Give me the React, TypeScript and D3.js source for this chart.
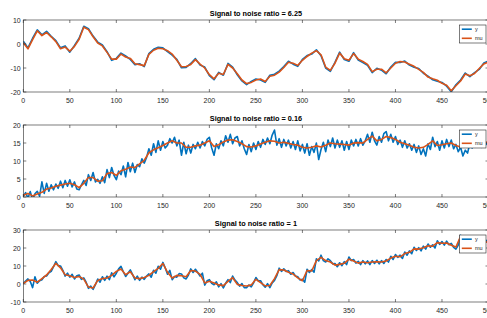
import React from 'react';
import * as d3 from 'd3';

const W = 487;
const H = 318;

// x ticks shared by all three panels
const xTicks = [0, 50, 100, 150, 200, 250, 300, 350, 400, 450, 500];

const titles = [
  'Signal to noise ratio = 6.25',
  'Signal to noise ratio = 0.16',
  'Signal to noise ratio = 1',
];
const yDomains: [number, number][] = [[-20, 10], [0, 20], [-10, 30]];
const yTicks = [
  [-20, -10, 0, 10],
  [0, 5, 10, 15, 20],
  [-10, 0, 10, 20, 30],
];

// panel 1 (every 5 samples)
const mu1 = [
  0.5, -2, 1.8, 5.5, 3.5, 4.8, 3, 1, -2, -1.3,
  -3, -1, 2, 7, 6, 3, 0.4, -0.8, -3.5, -6.3,
  -6.3, -4.2, -5.4, -6, -8.2, -8.6, -9, -4.3, -2.6, -1.8,
  -2, -2.8, -4.2, -6.8, -9.5, -9.4, -8.5, -6.5, -8.4, -10,
  -12.8, -14.5, -12.2, -12.7, -8.5, -10, -12.4, -15, -16.5, -16,
  -15, -14.6, -15.6, -13.4, -13, -11.7, -9.8, -7.6, -8, -8.9,
  -6.8, -5.2, -3.8, -2.8, -4.5, -9.6, -11, -8, -3.8, -6.1,
  -6.8, -4, -6.3, -7.3, -8.5, -11.5, -10.5, -10.5, -12, -10,
  -8, -7.3, -7.5, -8.4, -9.3, -10.6, -11.8, -13.8, -14.5, -15.1,
  -16.4, -17.2, -19.5, -17.4, -15.4, -12.5, -13.2, -12.3, -10.2, -8.3,
  -7.5,
];
const y1 = [
  1.2, -1.6, 2.4, 5.9, 3.8, 5.3, 3.2, 1.4, -1.6, -0.8,
  -3.4, -0.6, 2.4, 7.4, 6.4, 3.3, 0.8, -0.4, -3.2, -6.8,
  -6.0, -3.8, -5.0, -6.4, -8.6, -8.2, -9.4, -4.0, -2.2, -1.4,
  -1.6, -3.2, -4.6, -6.4, -9.9, -9.8, -8.1, -6.1, -8.8, -9.6,
  -13.2, -14.9, -11.8, -13.0, -8.1, -9.6, -12.8, -15.4, -16.9, -15.6,
  -14.6, -15.0, -16.0, -13.0, -12.6, -11.3, -9.4, -7.2, -8.4, -9.3,
  -6.4, -4.8, -4.2, -2.4, -4.9, -10.0, -11.4, -7.6, -3.4, -6.5,
  -7.2, -3.6, -6.7, -7.7, -8.9, -11.9, -10.1, -10.9, -12.4, -9.6,
  -7.6, -7.7, -7.1, -8.8, -9.7, -10.2, -12.2, -13.4, -14.9, -15.5,
  -16.0, -17.6, -19.9, -17.0, -15.0, -12.1, -13.6, -11.9, -10.6, -7.9,
  -7.1,
];

// panel 2
const mu2 = [
  0.5, 1, 0.3, 0.8, 1.3, 2.2, 2.5, 3, 3.3, 3.6,
  3.8, 3.4, 2.6, 3.8, 5.4, 5.4, 4.4, 4.5, 6.5, 6.8,
  6, 7.3, 7.7, 8.3, 8.2, 9.2, 10.2, 12.3, 13.1, 13.7,
  14.3, 15, 15.6, 15, 15, 13.8, 13.8, 14.2, 14.4, 15,
  15.6, 14, 14.5, 15.3, 15.8, 15.9, 15.4, 14.8, 14, 13.9,
  14.2, 14.7, 15.2, 15.6, 15.5, 15, 15.2, 14.9, 14.6, 14.4,
  13.8, 13.6, 13.8, 14.2, 13.9, 14.4, 15, 14.8, 14.7, 14.6,
  14.4, 15, 15.1, 15, 16, 16.9, 15.6, 16, 16.8, 16.5,
  16, 15.2, 14.8, 14.4, 13.8, 13.6, 13.8, 14.6, 15.6, 14.3,
  14.5, 14.8, 15, 14.3, 13.9, 13.8, 14.8, 14.9, 14.4, 15,
  15.4,
];
const y2 = [
  0.2, 1.2, -0.3, 1.5, -0.8, 0.9, 1.6, 0.2, 4.2, 1.0, 3.8, 1.6,
  3.4, 2.0, 3.6, 2.4, 4.4, 2.6, 4.6, 3.0, 4.8, 2.8, 4.2, 2.2,
  2.0, 3.4, 4.6, 3.2, 6.2, 4.6, 6.8, 4.2, 4.9, 3.8, 5.6, 4.0,
  7.6, 5.4, 8.2, 6.0, 4.8, 7.2, 6.2, 8.6, 5.6, 9.6, 7.0, 9.4,
  6.8, 9.0, 8.4, 10.6, 9.4, 11.0, 13.4, 11.6, 14.8, 12.4, 15.6, 13.0,
  15.4, 13.6, 14.4, 16.2, 15.0, 16.6, 14.2, 15.8, 11.6, 15.2, 12.0, 14.4,
  12.2, 14.6, 13.4, 15.2, 13.6, 15.4, 14.2, 16.0, 16.6, 13.6, 11.6, 14.8,
  13.4, 15.6, 14.2, 17.0, 15.2, 17.4, 14.8, 16.4, 16.8, 14.2, 15.6, 13.4,
  11.8, 14.6, 12.6, 15.0, 13.2, 15.4, 13.8, 16.0, 14.6, 16.4, 14.8, 17.2,
  18.6, 14.4, 16.2, 13.8, 16.0, 14.2, 15.8, 13.6, 15.4, 13.2, 15.6, 12.8,
  14.6, 12.2, 14.8, 11.6, 14.0, 12.4, 15.0, 10.4, 13.2, 15.2, 12.6, 15.8,
  14.0, 16.4, 13.6, 15.8, 13.8, 15.6, 13.0, 15.4, 13.2, 15.8, 14.2, 16.0,
  14.2, 16.2, 14.4, 15.6, 17.4, 15.2, 18.0, 15.6, 14.4, 16.8, 15.2, 17.6,
  18.2, 15.6, 17.4, 15.2, 16.8, 14.6, 15.8, 13.8, 15.6, 13.6, 14.8, 13.0,
  14.6, 12.4, 14.2, 11.8, 13.4, 11.4, 14.8, 13.2, 16.6, 14.0, 15.4, 13.0,
  15.6, 13.6, 16.0, 14.0, 15.8, 13.4, 14.6, 12.6, 13.8, 11.4, 13.0, 12.2,
  15.0, 13.6, 15.6, 14.0, 15.2, 13.8, 15.8, 14.6, 15.6,
];

// panel 3
const mu3 = [
  0.2, 2, 2.2, 1, 3, 5, 8, 11.5, 9, 5.1,
  4.6, 3.6, 4.2, 2.7, -1.7, -2.2, 2, 3, 3.3, 4.8,
  7, 8.3, 5.2, 6.8, 3.3, 3, 3.6, 4.8, 6.9, 8.7,
  11.4, 6.5, 3.3, 4.8, 4.6, 4, 7.5, 7.2, 5.3, 0.6,
  1.5, 0.5, -0.5, -0.9, 1.5, 3.5, -0.2, -0.8, -1.1, -0.5,
  2.6, 0.8, -1, -0.8, 3, 8, 7.8, 6.5, 5.5, 3.4,
  1.8, 7.5, 7.2, 13, 14.8, 13, 12.2, 10.5, 10.9, 11.5,
  13.8, 12.8, 11.6, 12.2, 11.8, 12.2, 12.3, 12.2, 12.8, 14.4,
  15.4, 15.1, 16.9, 17.6, 19.5, 19.4, 20.2, 21.2, 21, 23,
  22.6, 22.8, 21.5, 20.5, 26.5, 24.5, 23.6, 23.1, 22.5, 23,
  23.6,
];
const y3 = [
  0.4, 1.6, 2.8, 1.4, -2.0, 4.0, 0.4, 1.8, 2.4, 4.2, 4.4, 6.2,
  7.0, 9.6, 12.4, 10.2, 10.0, 7.6, 4.4, 6.0, 3.8, 5.4, 2.8, 4.6,
  5.0, 2.6, 3.4, 1.0, -2.4, -1.2, -3.0, -0.4, 2.8, 1.0, 4.0, 2.0,
  4.4, 2.4, 6.2, 4.0, 6.0, 8.4, 9.8, 6.8, 4.2, 6.0, 7.8, 5.2,
  2.4, 4.4, 2.0, 3.8, 2.6, 4.4, 5.6, 3.8, 7.6, 6.0, 9.8, 8.2,
  12.0, 9.0, 5.4, 7.6, 2.4, 4.2, 3.8, 5.8, 5.6, 3.4, 2.8, 5.0,
  8.4, 6.4, 8.2, 6.4, 4.4, 6.0, -0.6, 1.8, 2.4, 0.4, -0.4, 1.2,
  -1.6, 0.2, -2.2, 0.4, 2.4, 0.8, 4.4, 2.2, 0.8, -1.2, 0.2, -2.0,
  -2.0, -0.6, -1.6, 0.6, 3.6, 1.8, 1.8, -0.4, -1.8, 0.2, -2.0, 0.6,
  2.0, 4.6, 8.8, 7.0, 8.4, 7.0, 7.4, 5.4, 6.4, 4.4, 4.0, 2.2,
  2.6, 1.0, 8.2, 6.4, 8.0, 6.6, 14.0, 12.8, 16.0, 13.0, 12.2, 14.0,
  13.0, 11.2, 11.4, 9.6, 11.8, 10.2, 12.4, 10.8, 15.0, 13.0, 13.6, 11.6,
  12.6, 10.8, 13.0, 11.2, 12.8, 10.8, 13.0, 11.4, 13.2, 11.2, 13.0, 11.4,
  13.6, 12.2, 15.4, 13.6, 16.4, 14.8, 16.0, 14.2, 17.8, 16.0, 18.4, 16.8,
  20.4, 18.6, 20.2, 18.4, 21.0, 19.4, 22.2, 20.4, 21.8, 20.0, 24.0, 22.0,
  23.6, 21.6, 23.8, 21.8, 22.6, 20.4, 19.4, 21.6, 27.0, 25.6, 24.0, 25.6,
  22.8, 24.6, 22.2, 23.8, 21.6, 23.8, 22.2, 24.2, 23.4,
];

const panels = [
  { y: y1, mu: mu1 },
  { y: y2, mu: mu2 },
  { y: y3, mu: mu3 },
];

const BLUE = '#0072BD';
const ORANGE = '#D95319';
const AXIS = '#262626';
const FONT = '"Liberation Sans", Arial, Helvetica, sans-serif';

const left = 23.3;
const right = 488.5;
const panelTops = [20, 125, 230];
const panelH = 72;

function Panel({ idx }: { idx: number }) {
  const top = panelTops[idx];
  const bottom = top + panelH;
  const x = d3.scaleLinear().domain([0, 500]).range([left, right]);
  const y = d3.scaleLinear().domain(yDomains[idx]).range([bottom, top]);
  const { y: ys, mu } = panels[idx];
  const mk = (arr: number[]) => {
    const s = 500 / (arr.length - 1);
    return d3.line<number>().x((_, i) => x(i * s)).y((d) => y(d))(arr) || '';
  };
  const clipId = `clip${idx}`;
  const lg = { x0: 459.5, y0: top + 5, w: 26.5, h: 18 };
  return (
    <g>
      <defs>
        <clipPath id={clipId}>
          <rect x={left} y={top} width={right - left} height={panelH} />
        </clipPath>
      </defs>
      <rect x={left} y={top} width={right - left} height={panelH} fill="#fff" />
      <g clipPath={`url(#${clipId})`}>
        <path d={mk(ys)} fill="none" stroke={BLUE} strokeWidth={1.6} strokeLinejoin="round" />
        <path d={mk(mu)} fill="none" stroke={ORANGE} strokeWidth={1.6} strokeLinejoin="round" />
      </g>
      {/* box */}
      <rect x={left} y={top} width={right - left} height={panelH} fill="none" stroke={AXIS} strokeWidth={0.6} />
      {xTicks.map((t) => (
        <g key={`x${t}`}>
          <line x1={x(t)} x2={x(t)} y1={bottom} y2={bottom - 3} stroke={AXIS} strokeWidth={0.6} />
          <line x1={x(t)} x2={x(t)} y1={top} y2={top + 3} stroke={AXIS} strokeWidth={0.6} />
          <text x={x(t)} y={bottom + 10.5} textAnchor="middle" fontSize={7} fill={AXIS} fontFamily={FONT}>
            {t}
          </text>
        </g>
      ))}
      {yTicks[idx].map((t) => (
        <g key={`y${t}`}>
          <line x1={left} x2={left + 3} y1={y(t)} y2={y(t)} stroke={AXIS} strokeWidth={0.6} />
          <line x1={right} x2={right - 3} y1={y(t)} y2={y(t)} stroke={AXIS} strokeWidth={0.6} />
          <text x={20.7} y={y(t) + 2.5} textAnchor="end" fontSize={7} fill={AXIS} fontFamily={FONT}>
            {t}
          </text>
        </g>
      ))}
      <text x={(left + right) / 2} y={top - 4.5} textAnchor="middle" fontSize={7.3} fontWeight="bold" fill="#000" fontFamily={FONT}>
        {titles[idx]}
      </text>
      {/* legend */}
      <rect x={lg.x0} y={lg.y0} width={lg.w} height={lg.h} fill="#fff" stroke={AXIS} strokeWidth={0.6} />
      <line x1={lg.x0 + 2.3} x2={lg.x0 + 12.3} y1={lg.y0 + 4.2} y2={lg.y0 + 4.2} stroke={BLUE} strokeWidth={1.6} />
      <line x1={lg.x0 + 2.3} x2={lg.x0 + 12.3} y1={lg.y0 + 13.3} y2={lg.y0 + 13.3} stroke={ORANGE} strokeWidth={1.6} />
      <text x={lg.x0 + 15.5} y={lg.y0 + 6.2} fontSize={5.5} fill={AXIS} fontFamily={FONT}>y</text>
      <text x={lg.x0 + 15.5} y={lg.y0 + 15.3} fontSize={5.5} fill={AXIS} fontFamily={FONT}>mu</text>
    </g>
  );
}

export default function App() {
  return (
    <svg
      width={W}
      height={H}
      style={{ position: 'absolute', left: 0, top: 0, background: '#fff' }}
    >
      <rect width={W} height={H} fill="#fff" />
      {[0, 1, 2].map((i) => (
        <Panel key={i} idx={i} />
      ))}
    </svg>
  );
}
